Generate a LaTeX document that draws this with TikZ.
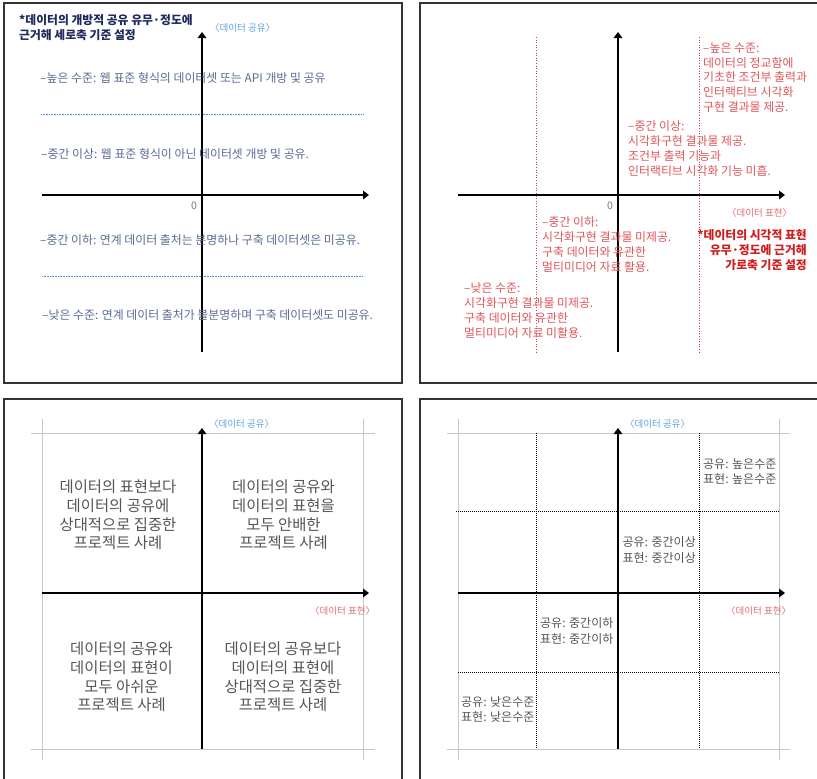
\documentclass[tikz,border=0pt]{standalone}
\usepackage{fontspec}
\setmainfont{Noto Sans CJK KR}
\usetikzlibrary{arrows.meta}
\definecolor{navy}{HTML}{1D2B5C}
\definecolor{slate}{HTML}{5A6B94}
\definecolor{bluedot}{HTML}{4A90D9}
\definecolor{bluelab}{HTML}{5BA3E0}
\definecolor{redtxt}{HTML}{E0555A}
\definecolor{redbold}{HTML}{D01C1C}
\definecolor{reddot}{HTML}{D9363E}
\definecolor{redlab}{HTML}{E46A6A}
\definecolor{greytxt}{HTML}{555555}
\definecolor{greyline}{HTML}{C8C8C8}
\definecolor{frame}{HTML}{333333}
\tikzset{
  panel/.style={draw=frame,line width=1.1pt},
  axis/.style={line width=2pt,-{Triangle[length=6pt,width=8.5pt]}},
  bluedotted/.style={draw=bluedot,line width=0.9pt,dash pattern=on 0.8pt off 0.8pt},
  reddotted/.style={draw=reddot,line width=0.9pt,dash pattern=on 1pt off 1.6pt},
  blackdotted/.style={draw=black,line width=0.9pt,dash pattern=on 1pt off 1pt},
  greyrule/.style={draw=greyline,line width=1pt},
  txt/.style={inner sep=0pt,font=\fontsize{11.9}{14.7}\selectfont},
  titletxt/.style={inner sep=0pt,font=\fontsize{11.8}{14.5}\selectfont\bfseries,align=left},
  axlab/.style={inner sep=0pt,font=\fontsize{9.5}{11}\selectfont},
  quad/.style={inner sep=0pt,text=greytxt,align=center,font=\fontsize{15.4}{18.7}\selectfont},
  cell/.style={inner sep=0pt,text=greytxt,font=\fontsize{12}{15.5}\selectfont},
  zero/.style={inner sep=0pt,text=greytxt!80,font=\fontsize{10.5}{12}\selectfont}
}
\begin{document}
\begin{tikzpicture}[x=1pt,y=-1pt]
\useasboundingbox (0,0) rectangle (817,779);
\clip (0,0) rectangle (817,779);
\fill[white] (0,0) rectangle (817,779);
% ---------------- panel frames
\draw[panel] (4,3) rectangle (402,383);
\draw[panel] (420,3) rectangle (840,383);
\draw[panel] (4,399) rectangle (402,800);
\draw[panel] (420,399) rectangle (840,800);

% ================= PANEL 1
\draw[bluedotted] (41,114) -- (363,114);
\draw[bluedotted] (42,276) -- (363,276);
\coordinate (p1b) at (202,352);
\coordinate (p1t) at (202,32);
\coordinate (p1l) at (42,195);
\coordinate (p1r) at (369,195);
\draw[axis] (p1b) -- (p1t);
\draw[axis] (p1l) -- (p1r);
\node[titletxt,text=navy,anchor=west] (p1title) at (19,27.5) {*데이터의 개방적 공유 유무·정도에\\근거해 세로축 기준 설정};
\node[axlab,text=bluelab,anchor=west] (p1ylab) at (210,28) {〈데이터 공유〉};
\node[txt,text=slate,anchor=west] (p1h) at (40,78) {–높은 수준: 웹 표준 형식의 데이터셋 또는 API 개방 및 공유};
\node[txt,text=slate,anchor=west] (p1mh) at (41,154) {–중간 이상: 웹 표준 형식이 아닌 데이터셋 개방 및 공유.};
\node[zero] (p1zero) at (194,206) {0};
\node[txt,text=slate,anchor=west] (p1ml) at (40,240) {–중간 이하: 연계 데이터 출처는 분명하나 구축 데이터셋은 미공유.};
\node[txt,text=slate,anchor=west] (p1l) at (42,315) {–낮은 수준: 연계 데이터 출처가 불분명하며 구축 데이터셋도 미공유.};

% ================= PANEL 2
\draw[reddotted] (536,37) -- (536,353);
\draw[reddotted] (699,37) -- (699,353);
\coordinate (p2b) at (618,352);
\coordinate (p2t) at (618,32);
\coordinate (p2l) at (458,195);
\coordinate (p2r) at (785,195);
\draw[axis] (p2b) -- (p2t);
\draw[axis] (p2l) -- (p2r);
\node[zero] (p2zero) at (610,206) {0};
\node[txt,text=redtxt,anchor=west,align=left] (p2h) at (703,77.5) {–높은 수준:\\데이터의 정교함에\\기초한 조건부 출력과\\인터랙티브 시각화\\구현 결과물 제공.};
\node[txt,text=redtxt,anchor=west,align=left] (p2mh) at (628,148.5) {–중간 이상:\\시각화구현 결과물 제공.\\조건부 출력 기능과\\인터랙티브 시각화 기능 미흡.};
\node[txt,text=redtxt,anchor=west,align=left] (p2ml) at (542,244.5) {–중간 이하:\\시각화구현 결과물 미제공.\\구축 데이터와 유관한\\멀티미디어 자료 활용.};
\node[txt,text=redtxt,anchor=west,align=left] (p2l) at (464,310.5) {–낮은 수준:\\시각화구현 결과물 미제공.\\구축 데이터와 유관한\\멀티미디어 자료 미활용.};
\node[axlab,text=redlab,anchor=west] (p2xlab) at (727,213) {〈데이터 표현〉};
\node[inner sep=0pt,text=redbold,anchor=east,align=right,font=\fontsize{11.8}{15}\selectfont\bfseries] (p2title) at (807,250) {*데이터의 시각적 표현\\유무·정도에 근거해\\가로축 기준 설정};

% ================= PANEL 3
\draw[greyrule] (31,433) -- (375,433);
\draw[greyrule] (31,749) -- (375,749);
\draw[greyrule] (42,419) -- (42,760);
\draw[greyrule] (363,419) -- (363,760);
\coordinate (p3b) at (202,749);
\coordinate (p3t) at (202,428);
\coordinate (p3l) at (42,593);
\coordinate (p3r) at (369,593);
\draw[axis] (p3b) -- (p3t);
\draw[axis] (p3l) -- (p3r);
\node[axlab,text=bluelab,anchor=west] (p3ylab) at (209,424) {〈데이터 공유〉};
\node[axlab,text=redlab,anchor=west] (p3xlab) at (310,611) {〈데이터 표현〉};
\node[quad] (p3tl) at (118,515) {데이터의 표현보다\\데이터의 공유에\\상대적으로 집중한\\프로젝트 사례};
\node[quad] (p3tr) at (283.5,515) {데이터의 공유와\\데이터의 표현을\\모두 안배한\\프로젝트 사례};
\node[quad] (p3bl) at (121.5,677) {데이터의 공유와\\데이터의 표현이\\모두 아쉬운\\프로젝트 사례};
\node[quad] (p3br) at (283,677) {데이터의 공유보다\\데이터의 표현에\\상대적으로 집중한\\프로젝트 사례};

% ================= PANEL 4
\draw[greyrule] (447,433) -- (790,433);
\draw[greyrule] (447,749) -- (790,749);
\draw[greyrule] (458,419) -- (458,760);
\draw[greyrule] (779,419) -- (779,760);
\draw[blackdotted] (536,433) -- (536,749);
\draw[blackdotted] (699,433) -- (699,749);
\draw[blackdotted] (456,511) -- (779,511);
\draw[blackdotted] (458,672) -- (779,672);
\coordinate (p4b) at (618,749);
\coordinate (p4t) at (618,428);
\coordinate (p4l) at (458,593);
\coordinate (p4r) at (785,593);
\draw[axis] (p4b) -- (p4t);
\draw[axis] (p4l) -- (p4r);
\node[axlab,text=bluelab,anchor=west] (p4ylab) at (625,424) {〈데이터 공유〉};
\node[axlab,text=redlab,anchor=west] (p4xlab) at (726,611) {〈데이터 표현〉};
\node[cell,anchor=west,align=left] (p4hh) at (703,471.5) {공유: 높은수준\\표현: 높은수준};
\node[cell,anchor=east,align=left] (p4mh) at (696,550) {공유: 중간이상\\표현: 중간이상};
\node[cell,anchor=west,align=left] (p4ml) at (540,631) {공유: 중간이하\\표현: 중간이하};
\node[cell,anchor=west,align=left] (p4ll) at (461,709.5) {공유: 낮은수준\\표현: 낮은수준};
\end{tikzpicture}
\end{document}
